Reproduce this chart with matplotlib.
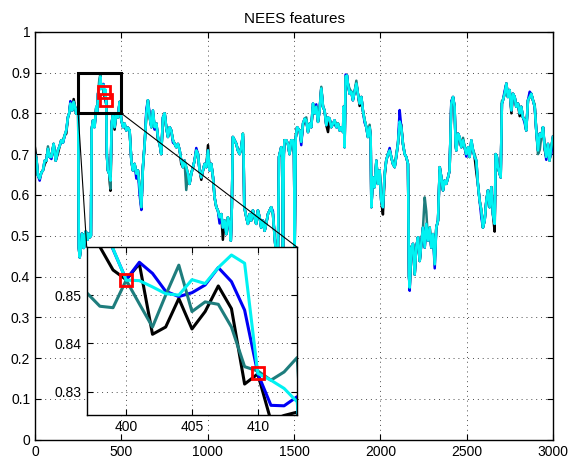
import matplotlib
matplotlib.use("Agg")
import matplotlib.pyplot as plt
from matplotlib.patches import Rectangle, ConnectionPatch
from matplotlib.ticker import FuncFormatter

plt.rcParams['font.family'] = ['Liberation Sans', 'DejaVu Sans']
plt.rcParams['font.size'] = 10

# coarse NEES trace of the cyan feature: (sample, value)
cyan_trace = [
    (0, 0.700), (8, 0.690), (17, 0.648), (27, 0.640), (37, 0.655), (46, 0.660),
    (56, 0.684), (66, 0.684), (75, 0.713), (85, 0.693), (95, 0.693), (108, 0.725),
    (120, 0.684), (133, 0.710), (143, 0.720), (152, 0.734), (162, 0.728), (172, 0.746),
    (181, 0.758), (191, 0.791), (198, 0.800), (205, 0.824), (210, 0.812), (216, 0.807),
    (224, 0.828), (232, 0.815), (239, 0.799), (246, 0.810), (250, 0.800), (254, 0.470),
    (259, 0.447), (266, 0.470), (272, 0.505), (278, 0.500), (283, 0.470), (288, 0.484),
    (293, 0.510), (297, 0.508), (303, 0.490), (310, 0.505), (317, 0.496), (324, 0.500),
    (328, 0.760), (336, 0.783), (345, 0.766), (350, 0.790), (355, 0.816), (360, 0.800),
    (365, 0.848), (372, 0.860), (378, 0.890), (384, 0.860), (390, 0.870),
    (416, 0.700), (422, 0.660), (430, 0.652), (437, 0.635), (444, 0.775), (452, 0.800),
    (461, 0.766), (471, 0.800), (481, 0.790), (490, 0.828), (500, 0.783), (510, 0.766),
    (519, 0.775), (529, 0.758), (538, 0.765), (548, 0.758), (558, 0.684), (567, 0.660),
    (577, 0.676), (587, 0.652), (596, 0.660), (606, 0.619), (616, 0.570), (625, 0.668),
    (635, 0.725), (645, 0.800), (654, 0.832), (664, 0.790), (674, 0.766), (683, 0.807),
    (693, 0.766), (703, 0.775), (712, 0.742), (722, 0.725), (731, 0.700), (741, 0.790),
    (751, 0.800), (760, 0.766), (770, 0.742), (780, 0.766), (789, 0.758), (799, 0.734),
    (809, 0.725), (818, 0.717), (828, 0.725), (838, 0.709), (847, 0.684), (857, 0.668),
    (866, 0.684), (876, 0.668), (886, 0.652), (895, 0.627), (905, 0.652), (915, 0.668),
    (924, 0.684), (934, 0.709), (944, 0.700), (953, 0.660), (963, 0.643), (973, 0.660),
    (982, 0.676), (992, 0.668), (1002, 0.709), (1011, 0.660), (1021, 0.676), (1031, 0.643),
    (1040, 0.594), (1050, 0.570), (1059, 0.562), (1069, 0.545), (1079, 0.553), (1088, 0.520),
    (1098, 0.537), (1108, 0.504), (1117, 0.545), (1127, 0.529), (1134, 0.488), (1140, 0.570),
    (1146, 0.742), (1156, 0.734), (1166, 0.725), (1175, 0.709), (1185, 0.700), (1195, 0.717),
    (1204, 0.750), (1208, 0.700), (1212, 0.570), (1224, 0.545), (1233, 0.529), (1243, 0.553),
    (1252, 0.537), (1262, 0.562), (1272, 0.545), (1281, 0.529), (1291, 0.562), (1301, 0.545),
    (1310, 0.520), (1320, 0.537), (1330, 0.512), (1339, 0.529), (1349, 0.553), (1359, 0.562),
    (1368, 0.570), (1378, 0.553), (1388, 0.496), (1397, 0.450), (1407, 0.460), (1413, 0.693),
    (1426, 0.717), (1432, 0.700), (1436, 0.450), (1441, 0.700), (1445, 0.734), (1455, 0.734),
    (1465, 0.725), (1474, 0.700), (1484, 0.734), (1494, 0.734), (1500, 0.700), (1504, 0.470),
    (1510, 0.740), (1518, 0.766), (1528, 0.760), (1533, 0.758), (1542, 0.730), (1552, 0.775),
    (1562, 0.787), (1571, 0.783), (1581, 0.754), (1591, 0.775), (1600, 0.766), (1610, 0.824),
    (1619, 0.800), (1629, 0.816), (1639, 0.779), (1648, 0.807), (1658, 0.861), (1668, 0.816),
    (1677, 0.807), (1687, 0.771), (1697, 0.790), (1706, 0.787), (1716, 0.766), (1726, 0.775),
    (1735, 0.783), (1745, 0.766), (1755, 0.775), (1764, 0.758), (1774, 0.766), (1784, 0.754),
    (1787, 0.816), (1793, 0.717), (1799, 0.890), (1807, 0.893), (1812, 0.873), (1822, 0.848),
    (1832, 0.853), (1841, 0.832), (1851, 0.853), (1861, 0.873), (1870, 0.848), (1880, 0.824),
    (1890, 0.840), (1899, 0.807), (1909, 0.783), (1919, 0.766), (1928, 0.742), (1938, 0.766),
    (1944, 0.742), (1948, 0.570), (1957, 0.643), (1967, 0.619), (1977, 0.684), (1986, 0.627),
    (1996, 0.660), (2005, 0.586), (2015, 0.570), (2025, 0.652), (2034, 0.684), (2044, 0.700),
    (2054, 0.709), (2063, 0.693), (2073, 0.676), (2083, 0.668), (2092, 0.693), (2102, 0.725),
    (2112, 0.780), (2121, 0.766), (2131, 0.725), (2141, 0.700), (2150, 0.693), (2160, 0.676),
    (2166, 0.400), (2170, 0.373), (2179, 0.471), (2189, 0.480), (2199, 0.405), (2208, 0.471),
    (2218, 0.496), (2228, 0.438), (2237, 0.480), (2247, 0.520), (2257, 0.471), (2266, 0.529),
    (2276, 0.488), (2286, 0.520), (2295, 0.471), (2305, 0.504), (2315, 0.430), (2324, 0.520),
    (2334, 0.537), (2344, 0.668), (2353, 0.643), (2363, 0.611), (2372, 0.635), (2382, 0.627),
    (2392, 0.643), (2401, 0.660), (2411, 0.824), (2421, 0.840), (2430, 0.816), (2436, 0.725),
    (2440, 0.709), (2450, 0.750), (2459, 0.742), (2469, 0.717), (2479, 0.734), (2488, 0.717),
    (2498, 0.700), (2508, 0.717), (2517, 0.693), (2527, 0.734), (2537, 0.709), (2546, 0.693),
    (2556, 0.684), (2565, 0.627), (2575, 0.586), (2585, 0.562), (2594, 0.520), (2604, 0.537),
    (2614, 0.586), (2623, 0.611), (2633, 0.570), (2643, 0.619), (2652, 0.553), (2662, 0.529),
    (2668, 0.700), (2675, 0.693), (2681, 0.668), (2691, 0.652), (2697, 0.643), (2704, 0.824),
    (2710, 0.832), (2720, 0.848), (2730, 0.873), (2739, 0.840), (2749, 0.857), (2759, 0.807),
    (2768, 0.848), (2778, 0.840), (2787, 0.816), (2797, 0.824), (2807, 0.800), (2816, 0.816),
    (2826, 0.790), (2836, 0.783), (2845, 0.758), (2855, 0.832), (2865, 0.840), (2874, 0.848),
    (2884, 0.832), (2894, 0.816), (2903, 0.758), (2913, 0.709), (2923, 0.750), (2932, 0.742),
    (2942, 0.766), (2952, 0.717), (2961, 0.693), (2971, 0.725), (2980, 0.684), (2990, 0.717),
    (3000, 0.742),
]

# samples where the other features leave the cyan one
black_diff = {0: 0.715, 56: 0.675, 133: 0.702, 181: 0.750, 224: 0.835, 345: 0.770,
              437: 0.610, 461: 0.760, 519: 0.768, 683: 0.800, 712: 0.735, 847: 0.676,
              963: 0.637, 1002: 0.722, 1088: 0.490, 1552: 0.770, 1610: 0.815, 1697: 0.754,
              1735: 0.776, 1880: 0.818, 2015: 0.552, 2025: 0.645, 2121: 0.772, 2315: 0.445,
              2459: 0.735, 2527: 0.727, 2556: 0.655, 2662: 0.510, 2759: 0.800, 2807: 0.793,
              2952: 0.710}
blue_diff = {27: 0.635, 95: 0.688, 205: 0.830, 481: 0.796, 587: 0.640, 606: 0.600,
             616: 0.563, 645: 0.810, 664: 0.798, 693: 0.760, 799: 0.728, 876: 0.645,
             934: 0.715, 1069: 0.530, 1117: 0.530, 1204: 0.745, 1378: 0.560, 1542: 0.722,
             1629: 0.822, 1755: 0.770, 1799: 0.895, 1909: 0.777, 2054: 0.715, 2112: 0.808,
             2170: 0.365, 2286: 0.512, 2315: 0.420, 2411: 0.830, 2498: 0.694, 2585: 0.545,
             2720: 0.855, 2836: 0.776, 2865: 0.853, 2961: 0.686, 2980: 0.690, 2990: 0.700}
teal_diff = {75: 0.719, 162: 0.735, 350: 0.796, 372: 0.880, 378: 0.895, 437: 0.615,
             510: 0.772, 645: 0.795, 741: 0.784, 876: 0.612, 1011: 0.667, 1571: 0.790,
             1658: 0.865, 1745: 0.772, 1807: 0.885, 1822: 0.860, 1841: 0.840, 1861: 0.880,
             1938: 0.772, 2092: 0.700, 2112: 0.770, 2257: 0.594, 2266: 0.560, 2436: 0.720,
             2479: 0.740, 2546: 0.700, 2704: 0.830, 2894: 0.822, 2913: 0.700, 2923: 0.710}

# every sample inside the zoom window
zoom_t = list(range(397, 414))
zoom_black = [0.8640, 0.8600, 0.8552, 0.8532, 0.8565, 0.8419, 0.8434, 0.8493, 0.8430,
              0.8466, 0.8519, 0.8472, 0.8316, 0.8337, 0.8240, 0.8251, 0.8258]
zoom_blue = [0.8720, 0.8660, 0.8595, 0.8532, 0.8568, 0.8545, 0.8508, 0.8497, 0.8505,
             0.8521, 0.8557, 0.8528, 0.8469, 0.8338, 0.8272, 0.8271, 0.8290]
zoom_teal = [0.8505, 0.8477, 0.8474, 0.8531, 0.8482, 0.8434, 0.8500, 0.8562, 0.8466,
             0.8486, 0.8481, 0.8434, 0.8352, 0.8343, 0.8324, 0.8341, 0.8371]
zoom_cyan = [0.8700, 0.8660, 0.8596, 0.8531, 0.8530, 0.8517, 0.8503, 0.8500, 0.8532,
             0.8524, 0.8557, 0.8583, 0.8566, 0.8338, 0.8324, 0.8307, 0.8279]

marked_t = [400, 410]

box_t = (250, 500)
box_v = (0.8, 0.9)


def build(diff, zoom_vals):
    pts = [(t, diff.get(t, v)) for t, v in cyan_trace] + list(zip(zoom_t, zoom_vals))
    pts.sort()
    return [p[0] for p in pts], [p[1] for p in pts]


series = [
    ('#000000', build(black_diff, zoom_black)),
    ('#0000f5', build(blue_diff, zoom_blue)),
    ('#1e7d7d', build(teal_diff, zoom_teal)),
    ('#00f2f2', build({}, zoom_cyan)),
]
marked_v = [zoom_cyan[zoom_t.index(t)] for t in marked_t]

fmt = FuncFormatter(lambda v, pos: '%g' % v)
grid_kw = dict(linestyle=(0, (1, 4)), color='0.3', linewidth=0.7)

fig = plt.figure(figsize=(5.69, 4.61), dpi=100)
ax = fig.add_axes([0.0615, 0.0462, 0.9104, 0.885])
for color, (t, v) in series:
    ax.plot(t, v, color=color, lw=1.8)
ax.plot(marked_t, marked_v, 's', mfc='none', mec='#ff0000', ms=8, mew=2, zorder=5)
ax.add_patch(Rectangle((box_t[0], box_v[0]), box_t[1] - box_t[0], box_v[1] - box_v[0],
                       fill=False, edgecolor='k', lw=2.2, zorder=6))
ax.set_xlim(0, 3000)
ax.set_ylim(0, 1)
ax.set_xticks(range(0, 3001, 500))
ax.set_yticks([i / 10 for i in range(11)])
ax.yaxis.set_major_formatter(fmt)
ax.tick_params(direction='in', top=True, right=True, length=4, labelsize=10)
ax.grid(True, **grid_kw)
for s in ax.spines.values():
    s.set_linewidth(1.0)
ax.set_title('NEES features', fontsize=11, pad=6)

# zoomed view
axins = fig.add_axes([0.1524, 0.0998, 0.370, 0.3638])
for color, (t, v) in series:
    axins.plot(t, v, color=color, lw=2.2)
axins.plot(marked_t, marked_v, 's', mfc='none', mec='#ff0000', ms=8, mew=2, zorder=5)
axins.set_xlim(397, 413)
axins.set_ylim(0.8252, 0.8599)
axins.set_xticks([400, 405, 410])
axins.set_yticks([0.83, 0.84, 0.85])
axins.yaxis.set_major_formatter(fmt)
axins.tick_params(direction='in', top=True, right=True, length=4, labelsize=10)
axins.grid(True, **grid_kw)
for s in axins.spines.values():
    s.set_linewidth(1.0)

for xa, xb in [(box_t[0], 0), (box_t[1], 1)]:
    con = ConnectionPatch(xyA=(xa, box_v[0]), coordsA=ax.transData,
                          xyB=(xb, 1), coordsB=axins.transAxes,
                          color='k', lw=0.8)
    fig.add_artist(con)

fig.savefig('out.png', dpi=100)
